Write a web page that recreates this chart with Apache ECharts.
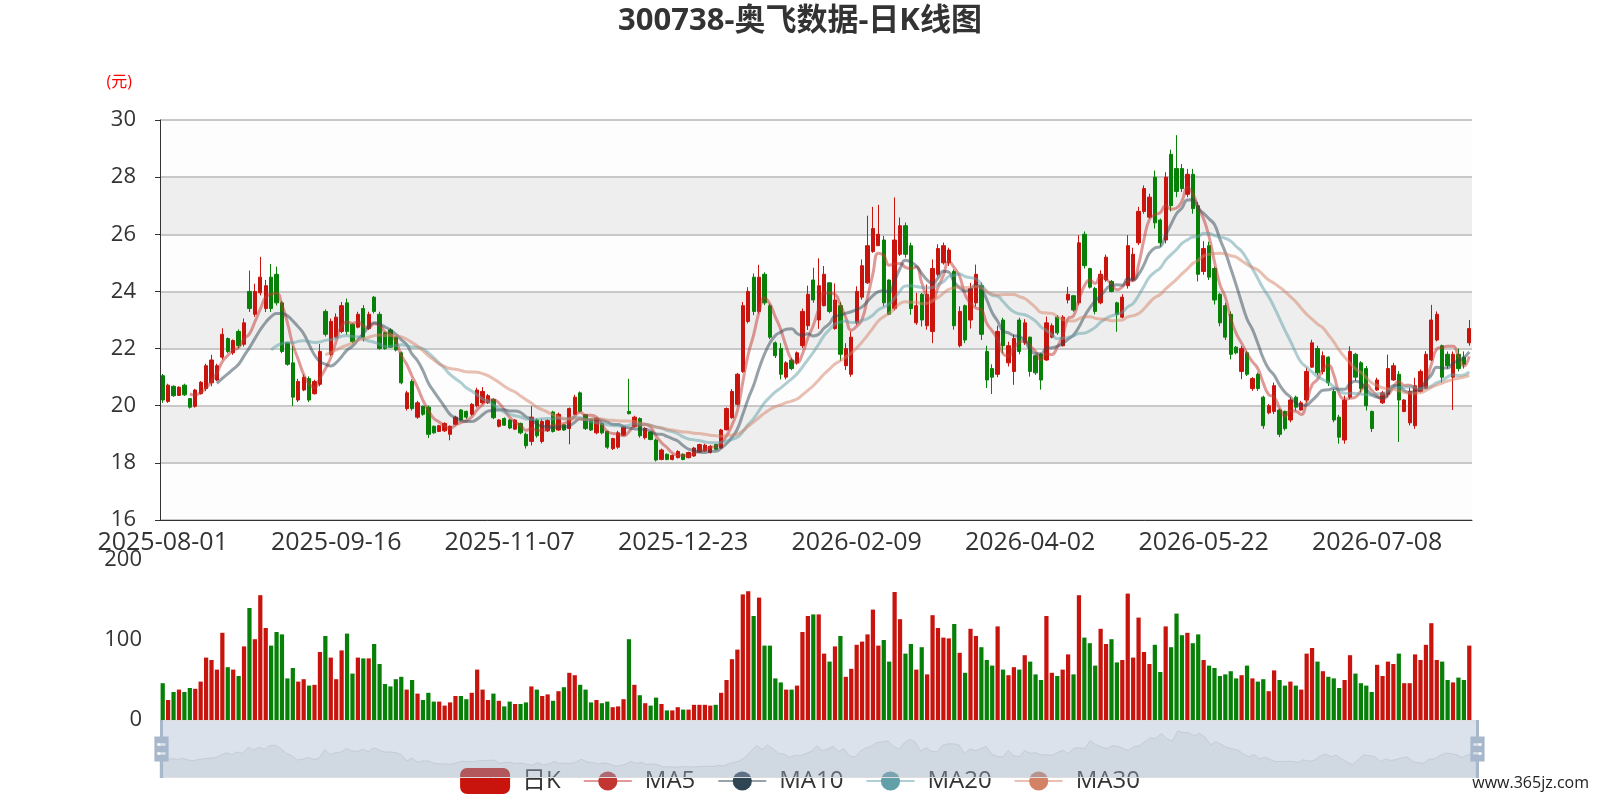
<!DOCTYPE html>
<html>
<head>
<meta charset="utf-8">
<script src="https://cdn.jsdelivr.net/npm/echarts@6/dist/echarts.min.js"></script>
<style>html,body{margin:0;padding:0;background:#fff}#main{width:1600px;height:800px}</style>
</head>
<body>
<div id="main"></div>
<script>
const dates = [
'2025-08-01','2025-08-04','2025-08-05','2025-08-06','2025-08-07','2025-08-08','2025-08-11','2025-08-12','2025-08-13','2025-08-14','2025-08-15','2025-08-18','2025-08-19','2025-08-20','2025-08-21','2025-08-22','2025-08-25','2025-08-26','2025-08-27','2025-08-28','2025-08-29',
'2025-09-01','2025-09-02','2025-09-03','2025-09-04','2025-09-05','2025-09-08','2025-09-09','2025-09-10','2025-09-11','2025-09-12','2025-09-15','2025-09-16','2025-09-17','2025-09-18','2025-09-19','2025-09-22','2025-09-23','2025-09-24','2025-09-25','2025-09-26','2025-09-29','2025-09-30',
'2025-10-09','2025-10-10','2025-10-13','2025-10-14','2025-10-15','2025-10-16','2025-10-17','2025-10-20','2025-10-21','2025-10-22','2025-10-23','2025-10-24','2025-10-27','2025-10-28','2025-10-29','2025-10-30','2025-10-31',
'2025-11-03','2025-11-04','2025-11-05','2025-11-06','2025-11-07','2025-11-10','2025-11-11','2025-11-12','2025-11-13','2025-11-14','2025-11-17','2025-11-18','2025-11-19','2025-11-20','2025-11-21','2025-11-24','2025-11-25','2025-11-26','2025-11-27','2025-11-28',
'2025-12-01','2025-12-02','2025-12-03','2025-12-04','2025-12-05','2025-12-08','2025-12-09','2025-12-10','2025-12-11','2025-12-12','2025-12-15','2025-12-16','2025-12-17','2025-12-18','2025-12-19','2025-12-22','2025-12-23','2025-12-24','2025-12-25','2025-12-26','2025-12-29','2025-12-30','2025-12-31',
'2026-01-05','2026-01-06','2026-01-07','2026-01-08','2026-01-09','2026-01-12','2026-01-13','2026-01-14','2026-01-15','2026-01-16','2026-01-19','2026-01-20','2026-01-21','2026-01-22','2026-01-23','2026-01-26','2026-01-27','2026-01-28','2026-01-29','2026-01-30',
'2026-02-02','2026-02-03','2026-02-04','2026-02-05','2026-02-06','2026-02-09','2026-02-10','2026-02-11','2026-02-12','2026-02-13','2026-02-24','2026-02-25','2026-02-26','2026-02-27',
'2026-03-02','2026-03-03','2026-03-04','2026-03-05','2026-03-06','2026-03-09','2026-03-10','2026-03-11','2026-03-12','2026-03-13','2026-03-16','2026-03-17','2026-03-18','2026-03-19','2026-03-20','2026-03-23','2026-03-24','2026-03-25','2026-03-26','2026-03-27','2026-03-30','2026-03-31',
'2026-04-01','2026-04-02','2026-04-03','2026-04-07','2026-04-08','2026-04-09','2026-04-10','2026-04-13','2026-04-14','2026-04-15','2026-04-16','2026-04-17','2026-04-20','2026-04-21','2026-04-22','2026-04-23','2026-04-24','2026-04-27','2026-04-28','2026-04-29','2026-04-30',
'2026-05-06','2026-05-07','2026-05-08','2026-05-11','2026-05-12','2026-05-13','2026-05-14','2026-05-15','2026-05-18','2026-05-19','2026-05-20','2026-05-21','2026-05-22','2026-05-25','2026-05-26','2026-05-27','2026-05-28','2026-05-29',
'2026-06-01','2026-06-02','2026-06-03','2026-06-04','2026-06-05','2026-06-08','2026-06-09','2026-06-10','2026-06-11','2026-06-12','2026-06-15','2026-06-16','2026-06-17','2026-06-18','2026-06-22','2026-06-23','2026-06-24','2026-06-25','2026-06-26','2026-06-29','2026-06-30',
'2026-07-01','2026-07-02','2026-07-03','2026-07-06','2026-07-07','2026-07-08','2026-07-09','2026-07-10','2026-07-13','2026-07-14','2026-07-15','2026-07-16','2026-07-17','2026-07-20','2026-07-21','2026-07-22','2026-07-23','2026-07-24','2026-07-27','2026-07-28','2026-07-29','2026-07-30','2026-07-31'
];

const openPrices = [
21.05,20.15,20.68,20.36,20.72,20.25,19.98,20.42,20.60,20.80,
20.90,21.70,22.35,21.85,22.60,22.15,24.00,23.20,23.95,23.40,
24.50,24.60,23.60,22.20,21.50,20.20,20.55,20.95,20.42,20.75,
23.30,21.80,22.40,22.60,23.60,22.85,22.75,23.40,22.70,23.80,
23.20,22.55,22.65,22.40,21.85,19.90,20.85,19.60,19.98,19.95,
19.28,19.10,19.12,19.00,19.35,19.85,19.80,19.70,20.00,20.10,
20.10,20.22,19.28,19.55,19.50,19.18,19.38,19.00,18.75,19.50,
18.75,19.12,19.78,19.15,19.33,19.20,19.70,20.45,19.68,19.50,
19.05,19.38,19.10,18.50,18.55,18.97,19.80,19.28,19.55,18.88,
19.08,18.80,18.12,18.30,18.12,18.18,18.30,18.18,18.24,18.38,
18.42,18.36,18.64,18.52,19.16,19.58,20.05,21.20,22.95,24.50,
23.30,24.60,23.50,22.20,22.00,21.00,21.60,21.50,22.10,22.80,
24.40,23.00,23.50,24.30,22.70,23.50,21.40,21.10,22.90,23.80,
24.30,25.40,25.60,25.80,24.40,23.40,25.30,26.30,25.60,22.90,
23.90,22.80,22.60,24.60,25.00,25.00,24.70,22.10,23.50,23.00,
23.60,24.20,21.90,21.30,21.10,23.00,21.50,21.20,23.00,22.20,
22.40,21.75,21.80,21.60,22.40,23.10,22.10,23.70,23.85,23.60,
26.00,24.80,24.10,23.60,24.40,24.35,23.60,23.10,24.20,24.40,
25.70,26.80,26.60,28.00,26.50,25.80,28.80,28.30,28.30,27.40,
28.10,27.00,24.70,25.60,24.80,23.90,23.50,23.20,22.05,21.20,
21.85,20.60,21.10,20.30,19.75,19.80,19.85,19.80,19.50,20.30,
19.85,20.20,21.35,22.00,21.20,21.70,20.50,19.60,18.80,20.30,
21.80,21.50,21.30,19.80,20.55,20.10,20.40,20.90,21.10,19.80,
19.40,19.30,20.50,20.60,21.60,22.30,22.10,21.80,21.00,21.80,
21.70,22.20
];

const closePrices = [
20.20,20.72,20.35,20.65,20.38,19.95,20.55,20.82,21.40,21.60,
21.40,22.50,21.90,22.28,22.10,22.90,23.40,24.00,24.50,24.20,
23.40,23.60,21.90,21.45,20.30,20.85,21.00,20.20,20.85,21.90,
22.50,22.95,23.10,23.50,22.60,22.25,23.20,22.40,23.20,23.30,
22.00,22.00,22.05,21.95,20.80,20.45,19.90,20.10,19.70,19.00,
19.05,19.30,19.38,19.28,19.60,19.50,19.60,20.05,20.55,20.50,
20.35,19.58,19.50,19.32,19.22,19.50,19.05,18.60,19.60,18.95,
19.45,19.48,19.10,19.70,19.15,19.90,20.30,19.80,19.20,19.15,
19.55,19.05,18.55,18.85,19.05,19.25,19.72,19.60,18.95,19.20,
18.82,18.10,18.45,18.12,18.26,18.40,18.12,18.36,18.52,18.64,
18.62,18.58,18.48,19.15,19.90,20.50,21.10,23.50,24.00,23.30,
24.50,23.60,22.40,21.75,21.10,21.50,21.30,21.85,23.30,23.90,
23.70,24.20,24.60,23.30,23.70,21.80,22.00,22.40,24.00,24.90,
25.60,26.20,26.00,23.60,23.20,25.80,26.30,25.30,23.40,23.50,
23.00,23.90,24.80,25.50,25.60,25.45,22.80,23.30,22.30,24.10,
24.60,22.50,20.90,21.00,22.60,22.10,22.10,22.35,21.90,22.90,
21.20,21.15,20.90,22.90,22.80,22.55,23.10,23.90,23.35,25.70,
24.90,24.15,23.30,24.60,25.20,24.00,23.20,23.80,25.60,25.30,
26.80,27.60,27.30,26.40,25.70,28.00,27.00,27.50,27.60,28.10,
26.90,24.60,25.50,24.50,23.70,22.90,22.40,21.80,21.85,22.00,
21.10,20.95,20.60,19.30,20.00,20.70,19.00,19.20,20.20,19.95,
20.10,21.20,22.20,21.15,21.75,20.80,19.50,18.90,20.20,21.90,
21.00,20.60,20.00,19.20,20.90,20.45,21.30,21.40,20.20,20.20,
20.50,20.70,21.20,21.80,23.00,23.20,21.00,21.40,21.80,21.30,
21.45,22.70
];

const lowPrices = [
20.10,20.10,20.31,20.34,20.34,19.90,19.93,20.39,20.51,20.68,
20.86,21.61,21.84,21.78,22.01,22.07,23.28,23.11,23.86,23.28,
23.28,23.51,21.84,21.40,19.99,20.13,20.51,20.13,20.39,20.68,
22.42,21.73,22.36,22.54,22.48,22.19,22.71,22.25,22.65,23.23,
21.96,21.96,22.02,21.90,20.75,19.83,19.83,19.54,19.65,18.87,
19.02,19.08,19.08,18.79,19.31,19.48,19.54,19.65,19.94,20.05,
20.06,19.53,19.24,19.29,19.18,19.15,19.00,18.50,18.61,18.88,
18.68,19.08,19.06,19.12,19.12,18.65,19.67,19.76,19.15,19.12,
19.00,19.00,18.49,18.45,18.49,18.94,19.70,19.24,18.88,18.82,
18.79,18.05,18.09,18.09,18.09,18.16,18.09,18.16,18.21,18.36,
18.39,18.33,18.44,18.50,19.13,19.54,20.00,21.15,22.88,23.17,
23.23,23.52,22.33,21.67,20.92,20.92,21.24,21.44,22.02,22.65,
23.60,22.69,23.48,23.24,22.66,21.57,21.25,21.01,22.83,23.71,
24.26,25.35,25.59,23.48,23.18,23.33,25.24,25.18,23.18,22.83,
22.77,22.66,22.19,24.53,24.94,24.89,22.66,22.04,22.19,22.70,
23.47,22.30,20.62,20.41,21.00,21.84,21.37,20.73,21.80,22.13,
21.02,21.08,20.56,21.57,22.36,22.48,22.07,23.58,23.29,23.52,
24.80,24.10,23.20,23.55,24.34,23.97,22.59,23.06,24.10,24.35,
25.62,26.72,26.55,26.20,25.57,25.68,26.80,27.30,27.48,27.30,
26.72,24.35,24.58,24.40,23.54,22.78,22.30,21.62,21.80,20.93,
21.04,20.52,20.52,19.19,19.70,19.71,18.90,19.13,19.42,19.83,
19.83,20.12,21.33,21.06,21.10,20.69,19.42,18.67,18.67,20.23,
20.87,20.46,19.83,19.08,20.52,20.06,20.29,20.87,18.73,19.77,
19.31,19.19,20.46,20.58,21.56,22.25,20.81,21.30,19.85,21.20,
21.30,22.10
];

const highPrices = [
21.11,20.77,20.71,20.68,20.77,20.27,20.59,20.86,21.47,21.78,
21.47,22.71,22.39,22.32,22.67,23.05,24.73,24.27,25.21,24.40,
24.96,24.87,23.66,22.21,22.09,20.94,21.09,21.03,20.91,22.16,
23.37,23.05,23.23,23.63,23.75,22.88,23.29,23.52,23.29,23.84,
23.29,22.59,22.71,22.42,21.90,20.52,20.92,20.17,20.00,20.00,
19.31,19.33,19.42,19.31,19.65,19.88,19.83,20.09,20.63,20.65,
20.41,20.26,19.53,19.59,19.53,19.53,19.41,19.06,19.98,19.55,
19.53,19.53,19.82,19.76,19.35,19.94,20.38,20.50,19.71,19.53,
19.59,19.41,19.12,18.88,19.12,19.29,20.94,19.65,19.59,19.25,
19.10,18.85,18.50,18.33,18.29,18.44,18.33,18.39,18.56,18.67,
18.67,18.62,18.67,19.19,19.94,20.58,21.15,23.63,24.15,24.63,
24.93,24.67,23.57,22.25,22.19,21.56,21.67,21.90,23.40,24.20,
24.83,25.16,24.89,24.32,24.28,23.63,22.19,22.60,24.18,25.12,
26.65,26.96,27.03,25.94,24.42,27.29,26.59,26.41,25.71,23.95,
23.95,24.24,25.12,25.65,25.71,25.53,24.77,23.48,23.54,24.30,
24.94,24.31,22.10,21.45,22.80,23.08,22.24,22.48,23.08,23.03,
22.42,21.78,21.84,23.12,22.88,23.17,23.17,24.16,23.87,25.97,
26.10,24.83,24.16,24.74,25.29,24.40,23.64,23.90,25.97,25.53,
26.96,27.71,27.42,28.23,26.55,28.17,28.96,29.47,28.46,28.29,
28.29,27.13,25.76,25.74,24.87,23.94,23.60,23.30,22.09,22.09,
21.91,21.00,21.16,20.35,20.06,20.81,19.90,19.83,20.29,20.35,
20.17,21.33,22.31,22.10,21.90,21.73,20.58,19.68,20.35,22.08,
21.85,21.56,21.39,19.83,20.98,20.52,21.79,21.50,21.21,20.23,
20.64,20.98,21.27,21.91,23.53,23.30,22.14,21.90,21.90,22.00,
21.90,23.00
];

const volumes = [
46,25,35,38,35,40,39,48,78,75,
63,109,66,63,55,92,140,101,156,115,
93,110,107,52,65,48,51,43,44,85,
105,78,51,87,108,58,78,77,77,95,
70,45,42,51,54,38,50,33,25,34,
23,23,18,22,30,30,26,34,63,38,
25,33,24,17,23,20,20,22,42,38,
30,32,24,36,41,59,56,44,38,22,
25,21,23,16,17,26,101,44,31,21,
18,28,20,12,12,16,13,13,19,19,
19,18,19,34,50,76,88,157,161,130,
153,93,93,52,47,38,38,43,110,130,
132,132,83,73,92,105,54,64,94,98,
107,138,93,100,73,160,126,83,95,63,
91,57,131,115,103,102,120,84,59,114,
105,91,75,68,117,63,56,66,63,81,
73,57,50,130,59,55,63,82,57,156,
103,96,68,114,95,101,72,75,158,78,
128,85,70,94,60,117,91,133,106,109,
96,107,75,68,65,55,57,61,52,56,
68,52,48,51,36,62,50,43,48,43,
38,83,90,73,61,54,52,40,50,81,
58,46,43,35,69,55,73,70,83,46,
46,82,75,94,121,75,73,50,47,53,
50,93
];

const maPeriods = [5, 10, 20, 30];
const maColors = ['#c23531', '#2f4554', '#61a0a8', '#d48265'];
const UP = '#c8140c';
const DOWN = '#078007';
const FONT = "'Open Sans', 'Noto Sans CJK SC', sans-serif";

function calcMA(n) {
  return closePrices.map(function (c, i) {
    if (i < n) return '-';
    var s = 0;
    for (var j = 0; j < n; j++) s += closePrices[i - j];
    return +(s / n).toFixed(3);
  });
}

const candleData = dates.map(function (d, i) {
  return [openPrices[i], closePrices[i], lowPrices[i], highPrices[i]];
});
const volumeData = volumes.map(function (v, i) {
  return { value: v, itemStyle: { color: closePrices[i] >= openPrices[i] ? UP : DOWN } };
});

const maSeries = maPeriods.map(function (n, k) {
  return {
    name: 'MA' + n, type: 'line', data: calcMA(n), smooth: true,
    symbol: 'circle', showSymbol: false,
    color: maColors[k], lineStyle: { width: 3, opacity: 0.5 }, z: 3
  };
});

const chart = echarts.init(document.getElementById('main'));
chart.setOption({
  animation: false,
  backgroundColor: '#fff',
  textStyle: { fontFamily: FONT },
  title: [{
    text: '300738-奥飞数据-日K线图', left: 'center', top: 1,
    textStyle: { fontSize: 31, fontWeight: 'bold', color: '#333', fontFamily: FONT }
  }, {
    text: 'www.365jz.com', right: 6, bottom: 4,
    textStyle: { fontSize: 16, fontWeight: 'normal', color: '#222', fontFamily: FONT }
  }],
  legend: {
    data: ['日K', 'MA5', 'MA10', 'MA20', 'MA30'],
    left: 'center', top: 763, z: 1,
    itemWidth: 48, itemHeight: 24, itemGap: 22,
    textStyle: { fontSize: 24, color: '#333', padding: [0, 0, 0, 8] }
  },
  grid: [
    { left: 160, right: 128, top: 120, height: 400 },
    { left: 160, right: 128, top: 560, height: 160 }
  ],
  xAxis: [{
    type: 'category', data: dates, gridIndex: 0, boundaryGap: true,
    axisLine: { onZero: false, lineStyle: { color: '#333' } },
    axisTick: { interval: 31, lineStyle: { color: '#333' } },
    axisLabel: { interval: 31, fontSize: 25, color: '#333', margin: 10 },
    splitLine: { show: false }
  }, {
    type: 'category', data: dates, gridIndex: 1, boundaryGap: true,
    axisLine: { show: false }, axisTick: { show: false },
    axisLabel: { show: false }, splitLine: { show: false }
  }],
  yAxis: [{
    type: 'value', gridIndex: 0, min: 16, max: 30, interval: 2,
    name: '(元)', nameGap: 30,
    nameTextStyle: { color: 'red', fontSize: 16, align: 'right', padding: [0, 28, 0, 0] },
    axisLine: { show: true, lineStyle: { color: '#333' } },
    axisTick: { show: true, lineStyle: { color: '#333' } },
    axisLabel: { fontSize: 22, color: '#333', margin: 24 },
    splitLine: { show: true, lineStyle: { color: '#c8c8c8', width: 2 } },
    splitArea: { show: true, areaStyle: { color: ['rgba(250,250,250,0.3)', 'rgba(200,200,200,0.3)'] } }
  }, {
    type: 'value', gridIndex: 1, min: 0, max: 200, interval: 100,
    axisLine: { show: false }, axisTick: { show: false },
    axisLabel: { fontSize: 22, color: '#333', margin: 18 },
    splitLine: { show: false }
  }],
  dataZoom: [{
    type: 'inside', xAxisIndex: [0, 1], start: 0, end: 100
  }, {
    type: 'slider', xAxisIndex: [0, 1], start: 0, end: 100,
    left: 158, right: 124, top: 720, height: 58, z: 10,
    backgroundColor: 'rgba(47,69,84,0)', borderColor: '#ddd',
    fillerColor: 'rgba(167,183,204,0.4)',
    handleIcon: 'path://M8.2,13.6V3.9H6.3v9.7H3.1v14.9h3.3v9.7h1.8v-9.7h3.3V13.6H8.2z M9.7,24.4H4.8v-1.4h4.9V24.4z M9.7,19.1H4.8v-1.4h4.9V19.1z',
    handleSize: '100%',
    handleStyle: { color: '#a7b7cc', borderColor: '#a7b7cc', borderWidth: 0 },
    moveHandleSize: 0, showDetail: false, brushSelect: false,
    dataBackground: {
      lineStyle: { color: '#2f4554', width: 0.5, opacity: 0.3 },
      areaStyle: { color: 'rgba(47,69,84,0.3)', opacity: 0.3 }
    },
    selectedDataBackground: {
      lineStyle: { color: '#2f4554', width: 0.5, opacity: 0.3 },
      areaStyle: { color: 'rgba(47,69,84,0.3)', opacity: 0.3 }
    }
  }],
  series: [{
    name: '日K', type: 'candlestick', data: candleData, barWidth: '70%',
    xAxisIndex: 0, yAxisIndex: 0,
    itemStyle: { color: UP, color0: DOWN, borderColor: UP, borderColor0: DOWN, borderWidth: 1 }
  }].concat(maSeries).concat([{
    name: 'Volume', type: 'bar', xAxisIndex: 1, yAxisIndex: 1,
    data: volumeData, barWidth: '78%'
  }])
});
</script>
</body>
</html>
